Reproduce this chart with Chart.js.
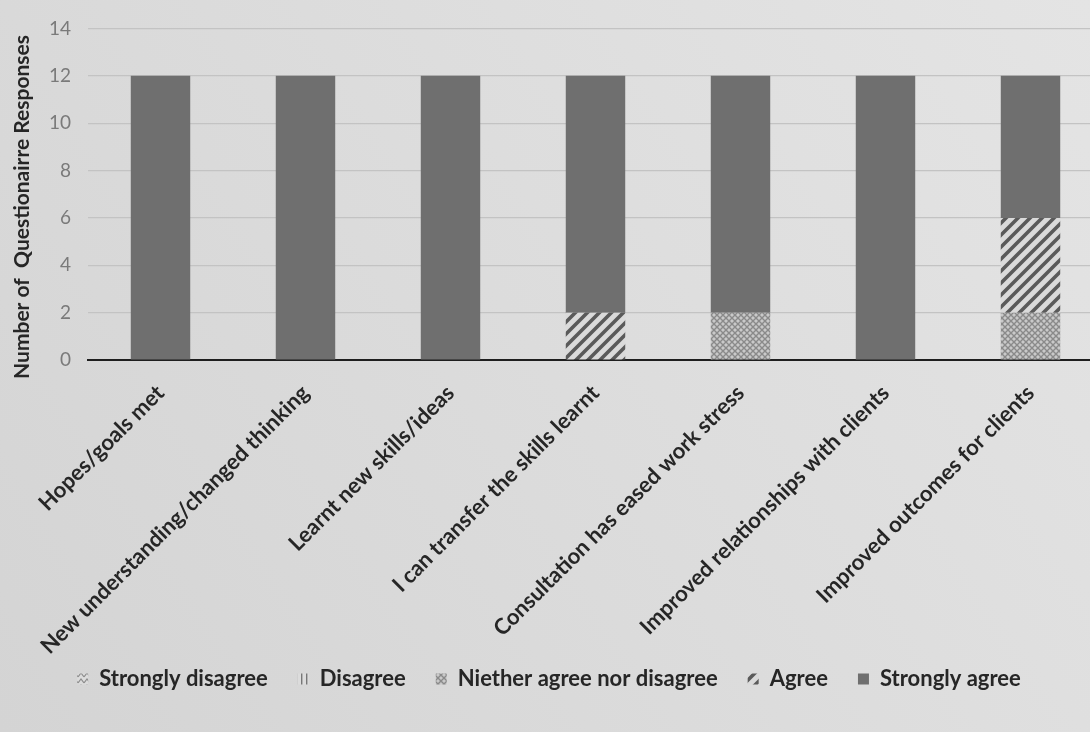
<!DOCTYPE html>
<html>
<head>
<meta charset="utf-8">
<script src="https://cdn.jsdelivr.net/npm/chart.js@4.4.1/dist/chart.umd.min.js"></script>
<style>
  html, body { margin: 0; padding: 0; background: #dcdcdc; }
  #wrap { width: 1090px; height: 732px; }
</style>
</head>
<body>
<div id="wrap"><canvas id="c" width="1090" height="732"></canvas></div>
<script>
// Survey statements along the x axis
const categories = [
  'Hopes/goals met',
  'New understanding/changed thinking',
  'Learnt new skills/ideas',
  'I can transfer the skills learnt',
  'Consultation has eased work stress',
  'Improved relationships with clients',
  'Improved outcomes for clients'
];

// Number of responses per answer option
const stronglyDisagree = [0, 0, 0, 0, 0, 0, 0];
const disagree         = [0, 0, 0, 0, 0, 0, 0];
const neither          = [0, 0, 0, 0, 2, 0, 2];
const agree            = [0, 0, 0, 2, 0, 0, 4];
const stronglyAgree    = [12, 12, 12, 10, 10, 12, 6];

const yTicks = [0, 2, 4, 6, 8, 10, 12, 14];

// Fill patterns for the answer options
function makePattern(size, draw) {
  const cv = document.createElement('canvas');
  cv.width = size; cv.height = size;
  const g = cv.getContext('2d');
  draw(g, size);
  return document.getElementById('c').getContext('2d').createPattern(cv, 'repeat');
}

const stripePattern = makePattern(12, (g, s) => {
  g.fillStyle = '#dadada';
  g.fillRect(0, 0, s, s);
  g.strokeStyle = '#5a5a5a';
  g.lineWidth = 3.6;
  g.lineCap = 'square';
  for (let k = -1; k <= 1; k++) {
    g.beginPath();
    g.moveTo(k * s - 1, s + 1);
    g.lineTo(k * s + s + 1, -1);
    g.stroke();
  }
});

const latticePattern = makePattern(6, (g, s) => {
  g.fillStyle = '#c9c9c9';
  g.fillRect(0, 0, s, s);
  g.strokeStyle = '#8a8a8a';
  g.lineWidth = 1.4;
  g.beginPath();
  g.moveTo(0, 0); g.lineTo(s, s);
  g.moveTo(s, 0); g.lineTo(0, s);
  g.stroke();
});

const chevronPattern = makePattern(6, (g, s) => {
  g.fillStyle = '#dcdcdc';
  g.fillRect(0, 0, s, s);
  g.strokeStyle = '#8c8c8c';
  g.lineWidth = 1.2;
  g.beginPath();
  g.moveTo(0, s - 1); g.lineTo(s / 2, 1); g.lineTo(s, s - 1);
  g.stroke();
});

const verticalPattern = makePattern(5, (g, s) => {
  g.fillStyle = '#dcdcdc';
  g.fillRect(0, 0, s, s);
  g.fillStyle = '#777777';
  g.fillRect(1, 0, 1.4, s);
});

// Paper-like background behind the whole chart
const backdrop = {
  id: 'backdrop',
  beforeDraw(chart) {
    const { ctx, width, height } = chart;
    const grad = ctx.createLinearGradient(0, height, width, 0);
    grad.addColorStop(0, '#d4d4d4');
    grad.addColorStop(1, '#e4e4e4');
    ctx.save();
    ctx.fillStyle = grad;
    ctx.fillRect(0, 0, width, height);
    ctx.restore();
  }
};

// The plot runs off the right edge of the page; the legend row sits
// right under the rotated category labels
const pageLayout = {
  id: 'pageLayout',
  afterLayout(chart) {
    const x = chart.scales.x;
    const plotRight = 1103;
    x.right = plotRight;
    x.width = plotRight - x.left;
    x.configure();
    chart.chartArea.right = plotRight;
    chart.chartArea.width = plotRight - chart.chartArea.left;

    const lg = chart.legend;
    if (!lg) return;
    const h = lg.bottom - lg.top;
    lg.top = 638;
    lg.bottom = 638 + h;
  }
};

const labelFont = "'Lato', 'Open Sans', sans-serif";

new Chart(document.getElementById('c'), {
  type: 'bar',
  data: {
    labels: categories,
    datasets: [
      { label: 'Strongly disagree', data: stronglyDisagree, backgroundColor: chevronPattern },
      { label: 'Disagree', data: disagree, backgroundColor: verticalPattern },
      { label: 'Niether agree nor disagree', data: neither, backgroundColor: latticePattern },
      { label: 'Agree', data: agree, backgroundColor: stripePattern },
      { label: 'Strongly agree', data: stronglyAgree, backgroundColor: '#6f6f6f' }
    ]
  },
  plugins: [backdrop, pageLayout],
  options: {
    responsive: false,
    animation: false,
    layout: { padding: { top: 20, right: 0, bottom: 10, left: 8 } },
    datasets: {
      bar: { barPercentage: 0.41, categoryPercentage: 1.0, borderWidth: 0 }
    },
    scales: {
      x: {
        stacked: true,
        grid: { display: false, drawTicks: false },
        border: { display: true, color: '#1e1e1e', width: 2 },
        ticks: {
          minRotation: 45,
          maxRotation: 45,
          autoSkip: false,
          padding: 20,
          color: '#262626',
          font: { family: labelFont, size: 22, weight: 'bold' }
        },
        afterFit(scale) { scale.height = 300; }
      },
      y: {
        stacked: true,
        min: 0,
        max: 14,
        afterBuildTicks(scale) { scale.ticks = yTicks.map(v => ({ value: v })); },
        grid: { color: '#c3c3c3', lineWidth: 1.2, drawTicks: false },
        border: { display: false },
        ticks: {
          padding: 17,
          color: '#7a7a7a',
          font: { family: labelFont, size: 19 }
        },
        title: {
          display: true,
          text: 'Number of  Questionairre Responses     ',
          color: '#262626',
          font: { family: labelFont, size: 21, weight: 'bold' },
          padding: { top: 2, bottom: 2 }
        },
        afterFit(scale) { scale.width = 80; }
      }
    },
    plugins: {
      legend: {
        position: 'bottom',
        labels: {
          boxWidth: 11,
          boxHeight: 11,
          padding: 30,
          color: '#262626',
          font: { family: labelFont, size: 22, weight: 'bold' }
        }
      },
      tooltip: { enabled: false }
    }
  }
});
</script>
</body>
</html>
